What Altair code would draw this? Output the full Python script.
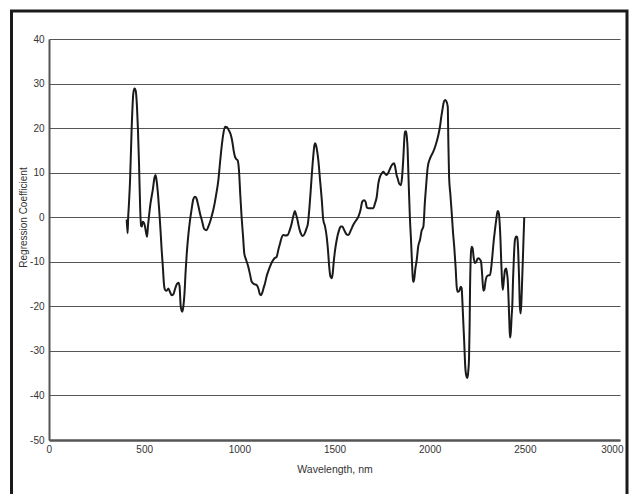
import altair as alt
import pandas as pd

# Regression coefficient spectrum, wavelength (nm) vs coefficient
wavelength_nm = [
    408, 413, 416, 420, 426, 434, 443, 449, 455, 462, 467, 473, 479, 484, 488,
    492, 498, 504, 510, 515, 520, 526, 531, 545, 555, 560, 566, 573, 580, 586,
    592, 598, 604, 610, 618, 627, 636, 645, 653, 663, 672, 680, 686, 692, 700,
    706, 712, 718, 724, 732, 740, 750, 758, 767, 775, 785, 793, 805, 815, 828,
    838, 850, 863, 872, 880, 890, 898, 907, 915, 925, 935, 945, 955, 963, 970,
    977, 985, 991, 998, 1005, 1012, 1019, 1026, 1035, 1047, 1057, 1065, 1078,
    1091, 1100, 1108, 1114, 1120, 1128, 1135, 1145, 1153, 1161, 1172, 1185,
    1196, 1205, 1214, 1222, 1231, 1242, 1254, 1264, 1275, 1285, 1292, 1298,
    1305, 1312, 1320, 1333, 1345, 1353, 1360, 1368, 1375, 1380, 1388, 1394,
    1398, 1404, 1410, 1415, 1424, 1433, 1441, 1450, 1459, 1466, 1472, 1478,
    1484, 1490, 1496, 1503, 1512, 1524, 1533, 1541, 1552, 1563, 1573, 1585,
    1599, 1612, 1625, 1636, 1646, 1655, 1663, 1670, 1680, 1693, 1704, 1712,
    1722, 1730, 1739, 1748, 1756, 1765, 1774, 1783, 1793, 1803, 1813, 1820,
    1826, 1832, 1840, 1849, 1855, 1862, 1866, 1870, 1876, 1880, 1884, 1888,
    1891, 1896, 1902, 1907, 1911, 1914, 1919, 1925, 1932, 1940, 1949, 1958,
    1967, 1975, 1983, 1990, 2002, 2019, 2030, 2037, 2046, 2054, 2061, 2067,
    2074, 2081, 2088, 2095, 2098, 2102, 2109, 2116, 2122, 2129, 2136, 2142,
    2146, 2150, 2156, 2163, 2168, 2172, 2177, 2182, 2186, 2192, 2198, 2203,
    2207, 2210, 2212, 2215, 2218, 2222, 2226, 2231, 2238, 2245, 2252, 2258,
    2264, 2270, 2276, 2282, 2287, 2293, 2300, 2310, 2317, 2323, 2329, 2336,
    2343, 2350, 2357, 2363, 2368, 2372, 2376, 2380, 2384, 2390, 2396, 2402,
    2406, 2410, 2415, 2419, 2422, 2426, 2431, 2434, 2438, 2443, 2448, 2455,
    2460, 2465, 2470, 2474, 2478, 2482, 2486, 2490, 2493, 2497,
]
coefficient = [
    -0.5, -3.6, 0.0, 3.0, 8.4, 19.6, 27.8, 28.9, 28.5, 25.0, 20.0, 12.0, 2.0, -2.0, -2.1,
    -1.0, -1.2, -2.0, -3.5, -4.4, -2.0, 0.5, 2.4, 6.1, 9.0, 9.5, 8.0, 5.0, 1.0, -3.0,
    -7.4, -11.0, -15.0, -16.3, -16.5, -16.0, -16.8, -17.5, -17.3, -16.0, -15.0, -14.7, -15.5, -20.0, -21.2,
    -20.0, -17.0, -12.0, -8.0, -4.0, -1.0, 2.0, 4.0, 4.6, 4.2, 2.5, 0.9, -1.0, -2.6, -2.9,
    -2.0, -0.5, 1.6, 3.5, 5.5, 8.4, 12.0, 15.8, 18.5, 20.3, 20.2, 19.5, 18.5, 17.0, 15.0,
    13.6, 13.0, 12.8, 10.6, 5.0, 0.0, -4.0, -8.1, -9.5, -11.1, -13.0, -14.5, -15.0,
    -15.2, -16.0, -17.3, -17.5, -17.0, -15.8, -14.8, -13.0, -12.0, -11.1, -10.0, -9.2,
    -8.9, -7.3, -5.9, -4.6, -4.0, -4.1, -4.0, -3.0, -1.4, 0.5, 1.4, 0.6,
    -0.5, -2.0, -3.3, -4.2, -3.5, -2.5, -1.5, 2.0, 6.0, 9.1, 13.5, 16.0,
    16.6, 16.0, 14.5, 12.8, 8.4, 4.0, -0.6, -2.0, -4.4, -7.5, -11.0, -13.2,
    -13.7, -12.8, -10.0, -7.4, -5.0, -2.9, -2.1, -2.1, -3.0, -3.8, -4.0, -3.0,
    -1.7, -0.8, 0.1, 1.5, 3.5, 3.8, 3.5, 2.2, 2.0, 2.0, 2.0, 3.0,
    4.6, 7.5, 9.1, 9.8, 10.2, 9.8, 9.5, 10.0, 11.0, 11.8, 12.1, 11.0,
    9.5, 8.7, 7.5, 7.2, 9.0, 13.6, 17.0, 19.2, 19.3, 18.0, 15.5, 10.0,
    6.1, 0.0, -5.1, -10.0, -13.5, -14.5, -13.8, -11.5, -9.6, -6.5, -5.1, -3.0,
    -2.1, 3.5, 8.0, 11.3, 13.2, 14.7, 16.0, 17.0, 18.5, 20.3, 22.5, 24.1,
    25.8, 26.3, 26.0, 24.8, 17.3, 9.1, 5.0, 0.9, -3.0, -6.6, -11.0, -15.6,
    -16.7, -16.7, -16.5, -15.6, -15.9, -19.0, -23.8, -28.5, -32.8, -35.5, -36.1, -34.5,
    -31.3, -24.0, -16.3, -10.0, -7.4, -6.6, -7.0, -9.0, -10.3, -10.0, -9.3, -9.2,
    -9.5, -10.0, -13.0, -16.5, -16.3, -14.5, -13.3, -13.0, -13.0, -11.5, -8.9, -5.5,
    -2.9, -0.5, 1.4, 1.0, -1.5, -5.0, -10.0, -14.0, -16.3, -14.0, -11.8, -11.5,
    -12.5, -14.0, -19.0, -24.0, -27.0, -26.0, -22.0, -20.0, -14.0, -8.5, -5.1, -4.3,
    -4.5, -7.5, -14.0, -20.0, -21.6, -19.0, -14.0, -9.0, -5.0, 0.0,
]

x_ticks = [0, 500, 1000, 1500, 2000, 2500, 3000]
y_ticks = [-50, -40, -30, -20, -10, 0, 10, 20, 30, 40]

df = pd.DataFrame({"wavelength": wavelength_nm, "coef": coefficient})

FONT = "Liberation Sans"
PLAIN = "'' + datum.value"  # plain integers, ASCII hyphen for negatives

curve = alt.Chart(df).mark_line(
    color="#1a1a1a", strokeWidth=2, interpolate="monotone"
).encode(
    x=alt.X(
        "wavelength:Q",
        scale=alt.Scale(domain=[0, 3000], nice=False),
        axis=alt.Axis(
            values=x_ticks, grid=False, ticks=False,
            domainColor="#555555", domainWidth=2.5,
            labelFont=FONT, labelFontSize=10, labelColor="#333333",
            labelPadding=4, labelFlush=True, labelFlushOffset=3,
            labelExpr=PLAIN,
            title="Wavelength, nm", titleFont=FONT, titleFontSize=10.5,
            titleFontWeight="normal", titleColor="#333333",
            titleY=32, titleBaseline="alphabetic",
        ),
    ),
    y=alt.Y(
        "coef:Q",
        scale=alt.Scale(domain=[-50, 40], nice=False, zero=False),
        axis=alt.Axis(
            values=y_ticks, grid=True, ticks=False,
            gridColor="#555555", gridWidth=1.2,
            domainColor="#555555", domainWidth=2,
            labelFont=FONT, labelFontSize=10, labelColor="#333333",
            labelPadding=5, labelFlush=False,
            labelExpr=PLAIN,
            title="Regression Coefficient", titleFont=FONT, titleFontSize=10,
            titleFontWeight="normal", titleColor="#333333",
            titleAngle=-90, titleX=-26, titleY=178,
            titleAlign="center", titleBaseline="middle",
        ),
    ),
)

# outer frame around the figure
frame = alt.Chart(alt.Data(values=[{}])).mark_rect(
    filled=False, stroke="#1a1a1a", strokeWidth=3
).encode(
    x=alt.value(-37.5), x2=alt.value(578),
    y=alt.value(-28), y2=alt.value(475),
)

chart = alt.layer(frame, curve).properties(
    width=571, height=401,
    autosize=alt.AutoSizeParams(type="none"),
    padding={"left": 49, "top": 39, "right": 11, "bottom": 54},
    background="white",
).configure_view(stroke=None)

chart.save("out.html", embed_options={"renderer": "svg", "actions": False})
